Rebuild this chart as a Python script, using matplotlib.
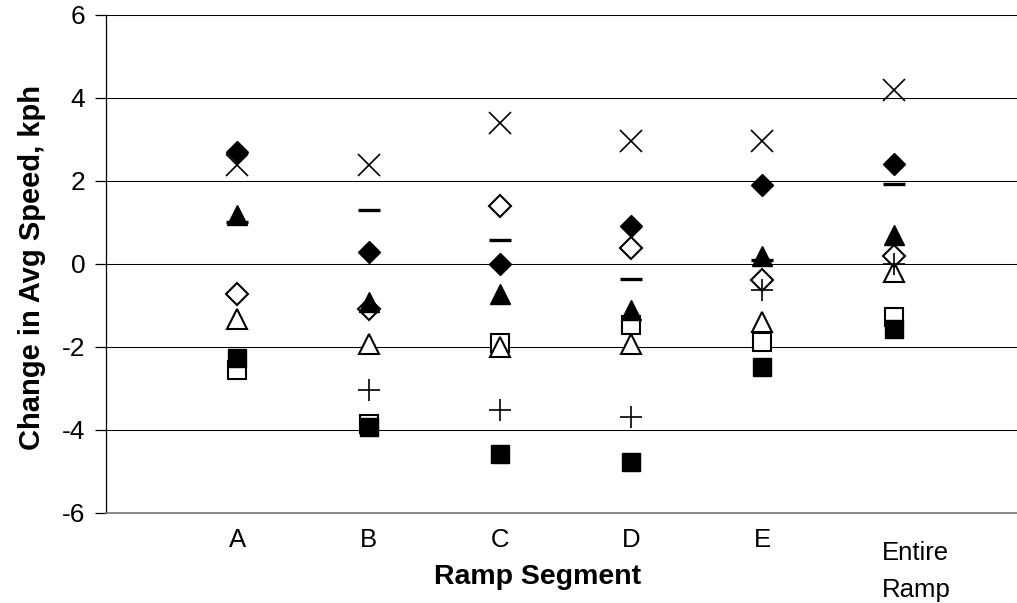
import matplotlib
matplotlib.use("Agg")
import matplotlib.pyplot as plt
from matplotlib.transforms import ScaledTranslation

categories = ['A', 'B', 'C', 'D', 'E', 'Entire\nRamp']

open_square    = [-2.56, -3.86, -1.90, -1.48, -1.88, -1.29]
open_triangle  = [-1.32, -1.93, -2.00, -1.94, -1.40, -0.21]
open_diamond   = [-0.72, -1.08, 1.38, 0.37, -0.40, 0.19]
x_series       = [2.37, 2.38, 3.40, 2.96, 2.96, 4.18]
plus_series    = [float('nan'), -3.03, -3.51, -3.70, -0.64, 0.00]  # not visible at A
filled_square  = [-2.28, -3.94, -4.58, -4.78, -2.48, -1.56]
filled_triangle = [1.18, -0.92, -0.74, -1.12, 0.19, 0.70]
dash_series    = [1.00, 1.30, 0.58, -0.37, 0.10, 1.93]
filled_diamond = [2.68, 0.28, 0.00, 0.91, 1.90, 2.40]

yticks = [-6, -4, -2, 0, 2, 4, 6]

plt.rcParams['font.family'] = ['Liberation Sans', 'DejaVu Sans']

fig = plt.figure(figsize=(10.17, 6.03), dpi=100)
ax = fig.add_axes([106/1017, 90/603, 911/1017, 498.5/603])

xs = list(range(1, len(categories) + 1))

ax.plot(xs, open_square, ls='none', marker='s', ms=13.5, mfc='white', mec='black', mew=1.5, zorder=3)
ax.plot(xs, open_triangle, ls='none', marker='^', ms=15, mfc='white', mec='black', mew=1.5, zorder=3)
ax.plot(xs, open_diamond, ls='none', marker='D', ms=10.8, mfc='white', mec='black', mew=1.5, zorder=3)
ax.plot(xs, x_series, ls='none', marker='x', ms=15.5, mec='black', mew=1.2, zorder=3)
ax.plot(xs, plus_series, ls='none', marker='+', ms=15.5, mec='black', mew=1.2, zorder=3)
ax.plot(xs, filled_square, ls='none', marker='s', ms=13.5, mfc='black', mec='black', mew=1.0, zorder=3)
ax.plot(xs, filled_triangle, ls='none', marker='^', ms=15, mfc='black', mec='black', mew=1.0, zorder=3)
ax.plot(xs, dash_series, ls='none', marker='_', ms=15.5, mec='black', mew=2.4, zorder=3)
ax.plot(xs, filled_diamond, ls='none', marker='D', ms=10.8, mfc='black', mec='black', mew=1.0, zorder=3)

ax.set_xlim(0, 6.94)
ax.set_ylim(-6, 6)
ax.set_yticks(yticks)
ax.set_yticklabels([str(v) for v in yticks])
ax.grid(axis='y', color='black', lw=0.75, zorder=0)
ax.set_axisbelow(True)

for s in ['top', 'right']:
    ax.spines[s].set_visible(False)
ax.spines['left'].set_color('black')
ax.spines['left'].set_linewidth(0.9)
ax.spines['bottom'].set_color('#777777')
ax.spines['bottom'].set_linewidth(1.2)

ax.set_xticks(xs)
ax.set_xticklabels(categories)
ax.tick_params(axis='x', length=0, pad=11, labelsize=18.5)
ax.tick_params(axis='y', length=8, width=0.9, direction='out', pad=7, labelsize=19)

lbl = ax.get_xticklabels()[-1]
lbl.set_ha('left')
lbl.set_multialignment('left')
lbl.set_linespacing(1.65)
lbl.set_transform(lbl.get_transform() + ScaledTranslation(-0.12, -0.13, fig.dpi_scale_trans))

ax.set_xlabel('Ramp Segment', fontsize=20.5, fontweight='bold')
ax.xaxis.set_label_coords(0.474, -0.103)
ax.xaxis.label.set_va('top')
ax.set_ylabel('Change in Avg Speed, kph', fontsize=21, fontweight='bold')
ax.yaxis.set_label_coords(-0.066, 0.4925)

fig.savefig('out.png', dpi=100)
